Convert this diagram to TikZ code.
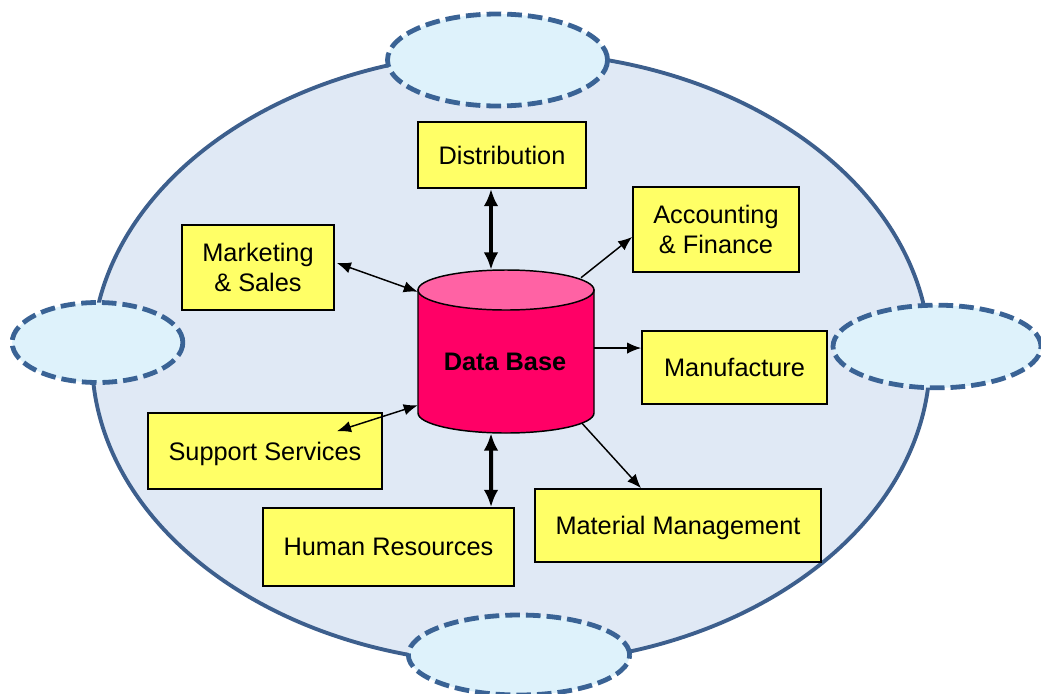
\documentclass[tikz,border=0pt]{standalone}
\usepackage{fontspec}
\setmainfont{Liberation Sans}
\usetikzlibrary{arrows.meta}
\definecolor{bigfill}{HTML}{E0E9F5}
\definecolor{bigline}{HTML}{3D5F8D}
\definecolor{smallfill}{HTML}{DEF2FB}
\definecolor{smallline}{HTML}{3A6395}
\definecolor{boxfill}{HTML}{FFFF66}
\definecolor{dbbody}{HTML}{FF0066}
\definecolor{dbtop}{HTML}{FF62A4}
\tikzset{
  box/.style={draw=black, line width=1.3pt, fill=boxfill, inner sep=0pt, align=center,
    text depth=0pt, font=\fontsize{19}{22.5}\selectfont},
  cloud/.style={draw=smallline, fill=smallfill, line width=3.6pt, dash pattern=on 11pt off 4.5pt},
  thinarrow/.style={line width=1.1pt, {Latex[length=10.5pt,width=8.5pt]}-{Latex[length=10.5pt,width=8.5pt]}},
  onearrow/.style={line width=1.1pt, -{Latex[length=10.5pt,width=8.5pt]}},
  thickarrow/.style={line width=3pt, {Latex[length=13pt,width=11pt]}-{Latex[length=13pt,width=11pt]}},
}
\begin{document}
\begin{tikzpicture}[x=0.75pt,y=-0.75pt]
\useasboundingbox (0,0) rectangle (1041,693);
\clip (0,0) rectangle (1041,693);
% big ellipse
\draw[bigline, fill=bigfill, line width=2.9pt] (511,358) ellipse [x radius=314.25pt, y radius=229.5pt];
% small dashed ellipses
\path[cloud] (497.5,60) ellipse [x radius=82.5pt, y radius=34.5pt];
\path[cloud] (97.5,342.5) ellipse [x radius=64pt, y radius=30pt];
\path[cloud] (937,346.5) ellipse [x radius=78pt, y radius=31pt];
\path[cloud] (519,655) ellipse [x radius=83pt, y radius=30pt];
% boxes
\node[box, minimum width=126pt, minimum height=49.5pt] (dist) at (502,155) {Distribution};
\node[box, minimum width=124.5pt, minimum height=63.75pt] (acc) at (716,229.5) {Accounting\\\& Finance};
\node[box, minimum width=114pt, minimum height=63.75pt] (mkt) at (258,267.5) {Marketing\\\& Sales};
\node[box, minimum width=138.75pt, minimum height=54.75pt] (man) at (734.5,367.5) {Manufacture};
\node[box, minimum width=175.5pt, minimum height=57pt] (sup) at (265,451) {Support Services};
\node[box, minimum width=188.25pt, minimum height=58.5pt] (hr) at (388.5,547) {Human Resources};
\node[box, minimum width=214.5pt, minimum height=54.75pt] (mat) at (678,525.5) {Material Management};
% database cylinder
\node[minimum width=132pt, minimum height=122.25pt, inner sep=0pt] (db) at (506,351.5) {};
\path[fill=dbbody, draw=black, line width=1.1pt] (418,290) -- (418,413)
  arc[start angle=180, end angle=360, x radius=66pt, y radius=15pt] -- (594,290) -- cycle;
\path[fill=dbtop, draw=black, line width=1.1pt] (506,290) ellipse [x radius=66pt, y radius=15pt];
\node[font=\fontsize{19}{22.5}\selectfont\bfseries] (dbl) at (505,362) {Data Base};
% connectors
\draw[thickarrow] ([xshift=-8.25pt]dist.south) -- ([xshift=-11.25pt]db.north);
\draw[thickarrow] ([xshift=-11.25pt]db.south) -- ([xshift=76.9pt]hr.north);
\draw[thinarrow] ([xshift=1.5pt,yshift=3.4pt]mkt.east) -- ([yshift=-16.5pt]db.north west);
\draw[thinarrow] ([yshift=21pt]db.south west) -- ([xshift=54pt,yshift=-14.25pt]sup.north);
\draw[onearrow] ([xshift=56.25pt,yshift=-6pt]db.north) -- ([yshift=-5.6pt]acc.west);
\draw[onearrow] ([yshift=2.6pt]db.east) -- ([yshift=14.6pt]man.west);
\draw[onearrow] ([xshift=57pt,yshift=7.5pt]db.south) -- ([xshift=-27.75pt]mat.north);
\end{tikzpicture}
\end{document}
